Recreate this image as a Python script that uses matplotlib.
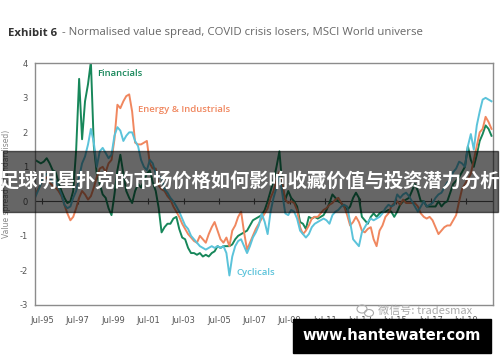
import matplotlib
matplotlib.use('Agg')
import matplotlib.pyplot as plt
import matplotlib.dates as mdates
import matplotlib.patches as mpatches
import pandas as pd

plt.rcParams['axes.unicode_minus'] = False

# bi-monthly observations, Feb-95 .. Dec-20 (one row per year)
dates = pd.date_range('1995-02-01', periods=156, freq='2MS')

financials = [
    1.2, 1.15, 1.1, 1.15, 1.25, 1.1,
    0.9, 0.85, 0.55, 0.3, 0.1, -0.05,
    0.0, 0.3, 1.5, 3.55, 1.8, 2.9,
    3.4, 4.05, 1.6, 0.8, 0.5, 0.2,
    0.1, -0.2, -0.4, 0.2, 0.9, 1.35,
    0.8, 0.3, 0.1, -0.05, 0.3, 0.5,
    0.4, 0.6, 0.8, 0.9, 0.55, 0.3,
    -0.2, -0.9, -0.75, -0.65, -0.65, -0.5,
    -0.45, -0.8, -1.05, -1.1, -1.35, -1.5,
    -1.5, -1.55, -1.5, -1.6, -1.55, -1.6,
    -1.5, -1.45, -1.3, -1.35, -1.3, -1.3,
    -1.3, -1.25, -1.1, -1.0, -0.95, -0.9,
    -0.85, -0.7, -0.55, -0.5, -0.45, -0.4,
    -0.25, 0.0, 0.3, 0.6, 1.0, 1.45,
    0.4, 0.05, 0.3, 0.1, 0.0, -0.15,
    -0.6, -0.65, -0.8, -0.45, -0.5, -0.45,
    -0.5, -0.45, -0.4, -0.25, -0.05, 0.2,
    0.1, 0.0, -0.05, -0.15, -0.25, -0.15,
    0.1, 0.25, 0.1, -0.45, -0.55, -0.65,
    -0.45, -0.35, -0.45, -0.35, -0.3, -0.3,
    -0.25, -0.3, -0.45, -0.3, -0.1, 0.0,
    0.05, 0.1, 0.3, 0.5, 0.3, 0.0,
    0.0, -0.15, -0.15, -0.15, -0.15, 0.0,
    -0.15, -0.05, 0.0, 0.25, 0.5, 0.6,
    0.7, 0.85, 1.0, 1.6, 1.2, 1.0,
    1.35, 1.75, 1.95, 2.2, 2.1, 1.9,
]

energy_industrials = [
    0.2, 0.35, 0.5, 0.6, 0.7, 0.55,
    0.45, 0.4, 0.3, 0.15, -0.1, -0.35,
    -0.55, -0.45, -0.2, 0.1, 0.3, 0.2,
    0.05, 0.15, 0.4, 0.7, 0.95, 1.0,
    0.85, 1.1, 1.2, 1.8, 2.8, 2.7,
    2.9, 3.05, 3.1, 2.6, 1.7, 1.65,
    1.65, 1.7, 1.75, 1.1, 0.95, 0.95,
    0.45, 0.35, 0.3, 0.15, 0.05, -0.15,
    -0.3, -0.45, -0.65, -0.8, -0.95, -1.05,
    -1.15, -1.2, -1.0, -1.1, -1.2, -0.95,
    -0.75, -0.6, -0.85, -1.1, -1.2, -1.05,
    -1.3, -0.85, -0.7, -0.45, -0.3, -0.9,
    -1.4, -1.2, -1.0, -0.8, -0.65, -0.5,
    -0.35, -0.2, 0.1, 0.3, 0.6, 0.85,
    0.5, 0.05, -0.05, 0.0, -0.05, -0.25,
    -0.75, -0.95, -0.85, -0.7, -0.5, -0.45,
    -0.45, -0.35, -0.25, -0.2, -0.1, -0.05,
    0.05, 0.1, -0.05, -0.15, -0.4, -0.7,
    -0.6, -0.45, -0.6, -0.85, -0.9, -0.8,
    -0.75, -1.1, -1.3, -0.85, -0.7, -0.45,
    -0.35, -0.15, -0.05, 0.0, -0.1, 0.05,
    -0.05, -0.05, -0.05, -0.05, -0.15, -0.35,
    -0.45, -0.5, -0.45, -0.55, -0.75, -0.95,
    -0.85, -0.75, -0.7, -0.7, -0.55, -0.4,
    0.0, 0.35, 0.5, 0.65, 0.8, 1.2,
    1.6, 2.0, 2.1, 2.45, 2.3, 2.1,
]

cyclicals = [
    0.1, 0.3, 0.5, 0.7, 0.8, 0.7,
    0.55, 0.6, 0.4, 0.2, -0.1, -0.2,
    -0.15, 0.1, 0.3, 0.7, 1.1, 1.3,
    1.65, 2.1, 1.7, 1.0, 1.45, 1.55,
    1.4, 1.25, 1.35, 1.9, 2.15, 2.05,
    1.75, 1.9, 2.0, 2.0, 1.75, 1.6,
    1.2, 1.0, 0.9, 1.2, 1.1, 0.8,
    0.7, 0.7, 0.35, 0.25, 0.1, 0.0,
    -0.15, -0.3, -0.5, -0.7, -0.8, -1.0,
    -1.1, -1.2, -1.3, -1.35, -1.4, -1.35,
    -1.3, -1.35, -1.3, -1.35, -1.3, -1.5,
    -2.15, -1.6, -1.3, -1.15, -1.1, -1.3,
    -1.5, -1.3, -1.05, -0.9, -0.7, -0.35,
    -0.6, -0.95, -0.3, 0.1, 0.4, 0.75,
    0.2, -0.35, -0.4, -0.25, -0.3, -0.5,
    -0.85, -0.95, -1.05, -0.95, -0.75, -0.65,
    -0.6, -0.55, -0.5, -0.55, -0.65, -0.4,
    -0.3, -0.25, -0.15, -0.1, -0.15, -0.6,
    -1.1, -1.2, -1.3, -0.9, -0.75, -0.6,
    -0.5, -0.55, -0.5, -0.45, -0.35, -0.2,
    -0.1, -0.15, -0.1, 0.2, 0.1, 0.2,
    0.25, 0.15, 0.0, -0.15, -0.3, -0.15,
    0.0, -0.15, -0.1, -0.05, 0.1, 0.2,
    0.25, 0.4, 0.55, 0.6, 0.85, 0.95,
    1.15, 1.1, 1.0, 1.6, 1.95, 1.5,
    2.2, 2.6, 2.95, 3.0, 2.95, 2.9,
]

tick_years = list(range(1995, 2020, 2))   # Jul-95 .. Jul-19
y_ticks = [-3, -2, -1, 0, 1, 2, 3, 4]

GREEN = '#17875a'
ORANGE = '#f0875f'
BLUE = '#5bc3da'

fig = plt.figure(figsize=(5, 3.62), dpi=100)
ax = fig.add_axes([0.07, 0.158, 0.916, 0.667])

ax.plot(dates, financials, color=GREEN, lw=1.4)
ax.plot(dates, energy_industrials, color=ORANGE, lw=1.4)
ax.plot(dates, cyclicals, color=BLUE, lw=1.4)

ax.set_xlim(pd.Timestamp('1995-02-01'), pd.Timestamp('2021-01-01'))
ax.set_ylim(-3, 4)

ticks = [pd.Timestamp(f'{y}-07-01') for y in tick_years]
ax.set_xticks(ticks)
ax.xaxis.set_major_formatter(mdates.DateFormatter('%b-%y'))
ax.set_yticks(y_ticks)
ax.tick_params(axis='both', length=0, labelsize=6, colors='#555555')
ax.tick_params(axis='x', pad=8)
ax.tick_params(axis='y', pad=5)

# zero line with its own little ticks
ax.axhline(0, color='#555555', lw=0.8, zorder=1)
ax.plot(ticks, [0] * len(ticks), ls='none', marker='|', ms=4, mew=0.8, color='#555555', zorder=1)

for s in ax.spines.values():
    s.set_color('#8c8c8c')
    s.set_linewidth(1.0)

ax.set_ylabel('Value spread (standardised)', fontsize=5.5, color='#888888', labelpad=6)

ax.text(0.135, 0.96, 'Financials', transform=ax.transAxes, color=GREEN,
        fontsize=6.8, fontweight='semibold', va='center', family='Open Sans')
ax.text(0.225, 0.81, 'Energy & Industrials', transform=ax.transAxes, color=ORANGE,
        fontsize=6.8, fontweight='semibold', va='center', family='Open Sans')
ax.text(0.439, 0.132, 'Cyclicals', transform=ax.transAxes, color=BLUE,
        fontsize=6.8, fontweight='semibold', va='center', family='Open Sans')

# title in two parts
renderer = fig.canvas.get_renderer()
t1 = fig.text(8 / 500, 1 - 33 / 362, 'Exhibit 6', fontsize=8.2, fontweight='bold',
              color='#333333', va='center', family='Open Sans')
bb = t1.get_window_extent(renderer)
fig.text(bb.x1 / 500 + 0.004, 1 - 33 / 362,
         ' - Normalised value spread, COVID crisis losers, MSCI World universe',
         fontsize=8.2, color='#666666', va='center', family='Open Sans')

# watermark
fig.text(378 / 500, 1 - 311 / 362, '微信号: tradesmax', fontsize=8, color='#aaaaaa',
         va='center', family=['Noto Sans CJK SC', 'DejaVu Sans'])
fig.patches.append(mpatches.Ellipse((362 / 500, 1 - 309 / 362), 10 / 500, 8 / 362,
                                    transform=fig.transFigure, fill=False, ec='#aaaaaa', lw=0.8))
fig.patches.append(mpatches.Ellipse((369 / 500, 1 - 313 / 362), 9 / 500, 7 / 362,
                                    transform=fig.transFigure, fill=False, ec='#aaaaaa', lw=0.8))

# overlay banner
fig.patches.append(mpatches.Rectangle((3 / 500, 1 - 212 / 362), 495 / 500, 61 / 362,
                                      transform=fig.transFigure, color='black', alpha=0.6, zorder=5))
fig.text(0.5, 1 - 182 / 362, '足球明星扑克的市场价格如何影响收藏价值与投资潜力分析',
         fontsize=13.9, fontweight='bold', color='white', ha='center', va='center',
         family=['Noto Sans CJK SC', 'DejaVu Sans'], zorder=6)

# bottom site box
fig.patches.append(mpatches.Rectangle((293 / 500, 1 - 353 / 362), 198 / 500, 34 / 362,
                                      transform=fig.transFigure, color='black', zorder=5))
fig.text(392 / 500, 1 - 336 / 362, 'www.hantewater.com', fontsize=10.5, fontweight='bold',
         color='white', ha='center', va='center', family='DejaVu Sans', zorder=6)

fig.savefig('out.png', dpi=100)
